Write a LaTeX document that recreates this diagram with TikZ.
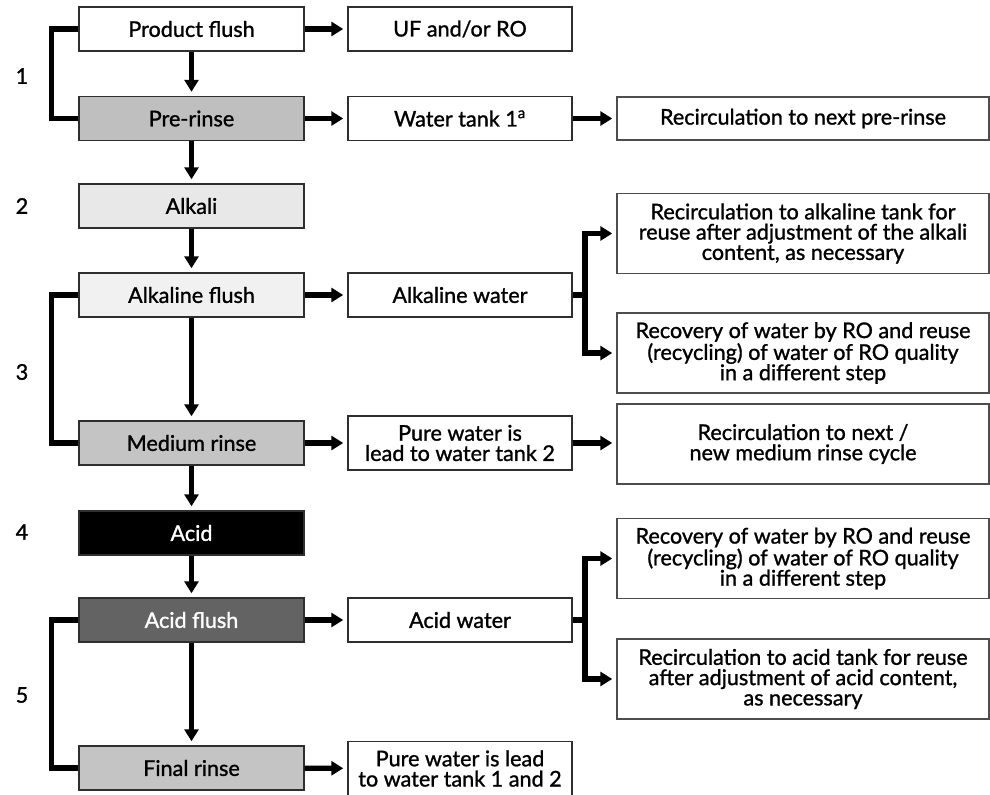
\documentclass[tikz,border=0pt]{standalone}
\usepackage{fontspec}
\setmainfont{Lato}[UprightFeatures={FakeBold=1.2}]
\usetikzlibrary{arrows.meta,positioning}
\definecolor{frame}{HTML}{2E2E2E}
\definecolor{midgray}{HTML}{BFBFBF}
\definecolor{palegray}{HTML}{E8E8E8}
\definecolor{palergray}{HTML}{F1F1F1}
\definecolor{rinsegray}{HTML}{C4C4C4}
\definecolor{darkgray}{HTML}{636363}
\tikzset{stepbox/.style={draw=frame,line width=1.1pt,minimum width=168.75pt,minimum height=33pt,inner sep=0pt,font=\fontsize{16.2}{15.2}\selectfont,align=center},
 outbox/.style={draw=frame,line width=1.1pt,minimum width=168pt,minimum height=33pt,inner sep=0pt,font=\fontsize{16.2}{15.2}\selectfont,align=center},
 farbox/.style={draw=frame!85,line width=1.1pt,minimum width=279pt,minimum height=60pt,inner sep=0pt,font=\fontsize{16.2}{15.2}\selectfont,align=center},
 flow/.style={line width=4pt,-{Triangle[length=9pt,width=10.5pt]},shorten >=3pt},
 loopline/.style={line width=4pt},
 steplabel/.style={font=\fontsize{16.2}{15.2}\selectfont}}
\begin{document}
\begin{tikzpicture}[x=0.75pt,y=-0.75pt]
\useasboundingbox (0,0) rectangle (990,795);
% left column
\node[stepbox,fill=white] (pf) at (191.5,29) {Product flush};
\node[stepbox,fill=midgray] (pr) at (191.5,118.5) {Pre-rinse};
\node[stepbox,fill=palegray] (alk) at (191.5,206) {Alkali};
\node[stepbox,fill=palergray] (alkf) at (191.5,295) {Alkaline flush};
\node[stepbox,fill=rinsegray] (mr) at (191.5,443) {Medium rinse};
\node[stepbox,fill=black,text=white] (acid) at (191.5,533) {Acid};
\node[stepbox,fill=darkgray,text=white] (af) at (191.5,620) {Acid flush};
\node[stepbox,fill=rinsegray] (fr) at (191.5,768) {Final rinse};
% middle column
\node[outbox] (uf) at (460,29) {UF and/or RO};
\node[outbox] (wt1) at (460,118.5) {Water tank 1\textsuperscript{a}};
\node[outbox] (alkw) at (460,295) {Alkaline water};
\node[outbox,minimum height=40.5pt] (pw2) at (460,443) {Pure water is\\lead to water tank 2};
\node[outbox] (acw) at (460,620) {Acid water};
\node[outbox,minimum height=40.5pt] (pw12) at (460,768.5) {Pure water is lead\\to water tank 1 and 2};
% right column
\node[farbox,minimum height=32.5pt] (recpr) at (803,118.5) {Recirculation to next pre-rinse};
\node[farbox] (recalk) at (803,233.5) {Recirculation to alkaline tank for\\reuse after adjustment of the alkali\\content, as necessary};
\node[farbox] (roalk) at (803,353) {Recovery of water by RO and reuse\\(recycling) of water of RO quality\\in a different step};
\node[farbox] (recmr) at (803,444) {Recirculation to next /\\new medium rinse cycle};
\node[farbox] (roacid) at (803,558.5) {Recovery of water by RO and reuse\\(recycling) of water of RO quality\\in a different step};
\node[farbox] (recacid) at (803,679) {Recirculation to acid tank for reuse\\after adjustment of acid content,\\as necessary};
% step numbers
\foreach \n/\y in {1/76,2/206,3/372,4/532,5/695}
 \node[steplabel] (s\n) at (22,\y) {\n};
% down the column
\draw[flow] (pf) -- (pr);
\draw[flow] (pr) -- (alk);
\draw[flow] (alk) -- (alkf);
\draw[flow] (alkf) -- (mr);
\draw[flow] (mr) -- (acid);
\draw[flow] (acid) -- (af);
\draw[flow] (af) -- (fr);
% side loops
\draw[loopline] (pf.west) -- ++(-27,0) |- (pr.west);
\draw[loopline] (alkf.west) -- ++(-27,0) |- (mr.west);
\draw[loopline] (af.west) -- ++(-27,0) |- (fr.west);
% across
\draw[flow] (pf) -- (uf);
\draw[flow] (pr) -- (wt1);
\draw[flow] (wt1) -- (recpr);
\draw[flow] (alkf) -- (alkw);
\draw[flow] (mr) -- (pw2);
\draw[flow] (pw2.east) -- (pw2.east -| recmr.west);
\draw[flow] (af) -- (acw);
\draw[flow] (fr) -- (pw12);
% branches
\coordinate (ja) at (585,295);
\coordinate (jb) at (585,620);
\draw[loopline] (alkw.east) -- (ja);
\draw[flow] (ja) |- (recalk.west);
\draw[flow] (ja) |- (roalk.west);
\draw[loopline] (acw.east) -- (jb);
\draw[flow] (jb) |- (roacid.west);
\draw[flow] (jb) |- (recacid.west);
\end{tikzpicture}
\end{document}
